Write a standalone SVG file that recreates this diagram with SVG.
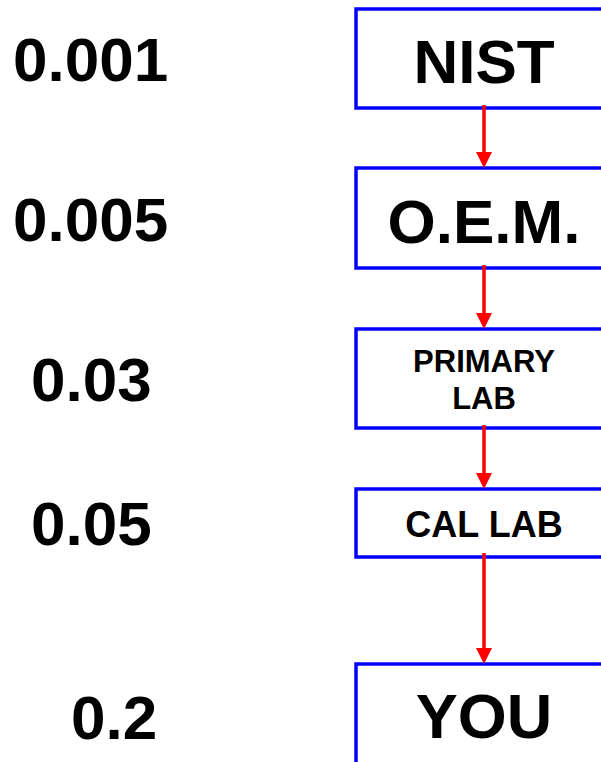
<svg xmlns="http://www.w3.org/2000/svg" width="601" height="762" viewBox="0 0 601 762">
  <style>
    .box { fill: #ffffff; stroke: #0000ff; stroke-width: 3.5; }
    .lbl { font-family: "Liberation Sans", Arial, sans-serif; font-weight: bold; fill: #000000; text-anchor: middle; }
    .num { font-family: "Liberation Sans", Arial, sans-serif; font-weight: bold; fill: #000000; font-size: 62px; }
    .conn { stroke: #ff0000; stroke-width: 3.5; fill: none; }
  </style>
  <defs>
    <marker id="arrow" markerUnits="userSpaceOnUse" markerWidth="16" markerHeight="16" refX="8" refY="8" orient="auto" viewBox="0 0 16 16">
      <path d="M0,0 L16,8 L0,16 Z" fill="#ff0000"/>
    </marker>
  </defs>
  <rect width="601" height="762" fill="#ffffff"/>

  <g id="numbers">
    <text class="num" x="13" y="81">0.001</text>
    <text class="num" x="13" y="241">0.005</text>
    <text class="num" x="31" y="401">0.03</text>
    <text class="num" x="31" y="545">0.05</text>
    <text class="num" x="71" y="739">0.2</text>
  </g>

  <g id="node-nist">
    <rect class="box" x="356" y="9" width="260" height="99"/>
    <text class="lbl" x="484" y="83" font-size="62">NIST</text>
  </g>
  <g id="node-oem">
    <rect class="box" x="356" y="168" width="260" height="100"/>
    <text class="lbl" x="484" y="243" font-size="62">O.E.M.</text>
  </g>
  <g id="node-primary">
    <rect class="box" x="356" y="329" width="260" height="99"/>
    <text class="lbl" x="484" y="372" font-size="31">PRIMARY</text>
    <text class="lbl" x="484" y="409" font-size="31">LAB</text>
  </g>
  <g id="node-cal">
    <rect class="box" x="356" y="489" width="260" height="68"/>
    <text class="lbl" x="484" y="537" font-size="36">CAL LAB</text>
  </g>
  <g id="node-you">
    <rect class="box" x="356" y="664" width="260" height="120"/>
    <text class="lbl" x="484" y="738" font-size="63">YOU</text>
  </g>

  <g id="connectors">
    <line class="conn" x1="484" y1="105" x2="484" y2="160" marker-end="url(#arrow)"/>
    <line class="conn" x1="484" y1="265" x2="484" y2="321" marker-end="url(#arrow)"/>
    <line class="conn" x1="484" y1="425" x2="484" y2="481" marker-end="url(#arrow)"/>
    <line class="conn" x1="484" y1="553" x2="484" y2="656" marker-end="url(#arrow)"/>
  </g>
</svg>
